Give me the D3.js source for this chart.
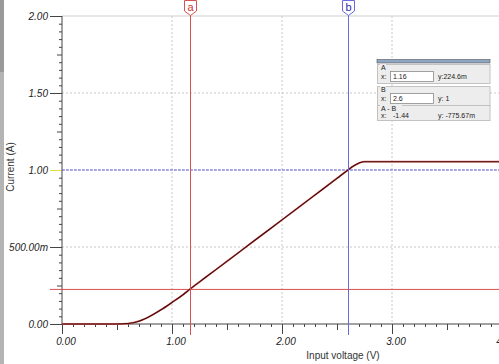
<!DOCTYPE html>
<html>
<head>
<meta charset="utf-8">
<script src="https://cdn.jsdelivr.net/npm/d3@7"></script>
<style>
  html, body { margin: 0; padding: 0; background: #fff; }
  svg { display: block; font-family: "Liberation Sans", Arial, sans-serif; }
</style>
</head>
<body>
<div id="chart"></div>
<script>
// valores: barrido de tensión de entrada vs corriente
const voltage = [0, 0.5, 0.6, 0.7, 0.8, 0.9, 1.0, 1.1, 1.16, 1.3, 1.5, 1.75, 2.0, 2.25, 2.5, 2.6, 2.65, 2.7, 2.75, 4.0];
const current = [0, 0, 0.003, 0.018, 0.05, 0.092, 0.14, 0.19, 0.2246, 0.3, 0.407, 0.542, 0.676, 0.811, 0.946, 1.0, 1.026, 1.045, 1.054, 1.054];
const xTicks = [0, 1, 2, 3, 4];
const yTicks = [0, 0.5, 1, 1.5, 2];
const yTickLabels = ['0.00', '500.00m', '1.00', '1.50', '2.00'];
const cursorA = { x: 1.16, y: 0.2246 };
const cursorB = { x: 2.6, y: 1 };
const readout = [
  { name: 'A', x: '1.16', y: 'y:224.6m', box: true },
  { name: 'B', x: '2.6', y: 'y: 1', box: true },
  { name: 'A - B', x: '-1.44', y: 'y: -775.67m', box: false }
];

(function () {
  const width = 499, height = 364;
  const svg = d3.select('#chart').append('svg').attr('width', width).attr('height', height);
  const x = d3.scaleLinear().domain([0, 4]).range([62, 502]);
  const y = d3.scaleLinear().domain([0, 2]).range([324, 16]);
  const data = voltage.map((v, i) => ({ v, c: current[i] }));

  // franja gris a la izquierda
  svg.append('rect').attr('x', 0).attr('y', 0).attr('width', 4).attr('height', height).attr('fill', '#b4b4b4');
  svg.append('rect').attr('x', 0).attr('y', 0).attr('width', 4).attr('height', 72).attr('fill', '#9a9a9a');

  // rejilla punteada
  const grid = svg.append('g');
  grid.selectAll('line.gx').data(xTicks.filter(d => d > 0)).join('line')
    .attr('x1', d => x(d)).attr('x2', d => x(d)).attr('y1', y(2)).attr('y2', y(0))
    .attr('stroke', '#c8c8c8').attr('stroke-dasharray', '2,2');
  grid.selectAll('line.gy').data(yTicks.filter(d => d > 0 && d < 2)).join('line')
    .attr('x1', x(0)).attr('x2', width).attr('y1', d => y(d)).attr('y2', d => y(d))
    .attr('stroke', '#c8c8c8').attr('stroke-dasharray', '2,2');
  svg.append('line').attr('x1', x(0)).attr('x2', width).attr('y1', y(2)).attr('y2', y(2)).attr('stroke', '#cfcfcf');

  // eje Y
  const minorY = d3.range(0, 2.0001, 0.05).filter(d => Math.abs(d * 2 - Math.round(d * 2)) > 1e-6);
  const yMinor = svg.append('g').attr('transform', `translate(${x(0)},0)`)
    .call(d3.axisLeft(y).tickValues(minorY).tickSize(3).tickFormat(''));
  yMinor.selectAll('line').attr('x2', d => Math.abs(d * 4 - Math.round(d * 4)) < 1e-6 ? -5 : -3);
  const yAxis = svg.append('g').attr('transform', `translate(${x(0)},0)`)
    .call(d3.axisLeft(y).tickValues(yTicks).tickSize(12).tickPadding(2).tickFormat((d, i) => yTickLabels[i]));
  [yMinor, yAxis].forEach(g => {
    g.select('.domain').remove();
    g.selectAll('line').attr('stroke', '#444');
  });
  yAxis.selectAll('text').attr('font-size', 10).attr('font-style', 'italic').attr('fill', '#222').attr('font-family', '"Liberation Sans", Arial, sans-serif');
  yAxis.selectAll('.tick line').filter(d => d === 1).attr('stroke', '#e8e040');
  svg.append('line').attr('x1', x(0)).attr('x2', x(0)).attr('y1', y(2)).attr('y2', y(0)).attr('stroke', '#444');

  // eje X
  const minorX = d3.range(0, 4.0001, 0.1).filter(d => Math.abs(d - Math.round(d)) > 1e-6);
  const xMinor = svg.append('g').attr('transform', `translate(0,${y(0)})`)
    .call(d3.axisBottom(x).tickValues(minorX).tickSize(3).tickFormat(''));
  xMinor.selectAll('line').attr('y2', d => Math.abs(d * 2 - Math.round(d * 2)) < 1e-6 ? 6 : 3);
  const xAxis = svg.append('g').attr('transform', `translate(0,${y(0)})`)
    .call(d3.axisBottom(x).tickValues(xTicks).tickSize(10).tickPadding(4).tickFormat(d3.format('.2f')));
  [xMinor, xAxis].forEach(g => {
    g.select('.domain').remove();
    g.selectAll('line').attr('stroke', '#444');
  });
  xAxis.selectAll('text').attr('font-size', 10).attr('font-style', 'italic').attr('fill', '#222').attr('dx', 3.5).attr('font-family', '"Liberation Sans", Arial, sans-serif');
  svg.append('line').attr('x1', x(0)).attr('x2', width).attr('y1', y(0)).attr('y2', y(0)).attr('stroke', '#444');

  // títulos de ejes
  svg.append('text').attr('transform', `translate(14,167) rotate(-90)`).attr('text-anchor', 'middle')
    .attr('font-size', 10).attr('fill', '#333').text('Current (A)');
  svg.append('text').attr('x', 343).attr('y', 359).attr('text-anchor', 'middle')
    .attr('font-size', 10).attr('fill', '#333').text('Input voltage (V)');

  // cursores horizontales
  svg.append('line').attr('x1', 50).attr('x2', width).attr('y1', y(cursorA.y)).attr('y2', y(cursorA.y))
    .attr('stroke', '#d85050').attr('stroke-width', 1);
  svg.append('line').attr('x1', x(0)).attr('x2', width).attr('y1', y(cursorB.y)).attr('y2', y(cursorB.y))
    .attr('stroke', '#6a6ae0').attr('stroke-width', 1).attr('stroke-dasharray', '3,1');

  // curva
  const line = d3.line().x(d => x(d.v)).y(d => y(d.c)).curve(d3.curveMonotoneX);
  svg.append('path').datum(data).attr('d', line).attr('fill', 'none').attr('stroke', '#d06060').attr('stroke-width', 1.8);
  svg.append('path').datum(data).attr('d', line).attr('fill', 'none').attr('stroke', '#4a0808').attr('stroke-width', 1.1);

  // cursores verticales con etiqueta
  [{ c: cursorA, label: 'a', color: '#d85050', text: '#d03030' }, { c: cursorB, label: 'b', color: '#6a6ae0', text: '#2a2ab0' }].forEach(k => {
    const cx = Math.round(x(k.c.x)) + 0.5;
    svg.append('line').attr('x1', cx).attr('x2', cx).attr('y1', 15).attr('y2', 335).attr('stroke', k.color);
    svg.append('path').attr('d', `M${cx - 6},0.5 H${cx + 6} V11 L${cx},15.5 L${cx - 6},11 Z`)
      .attr('fill', '#fff').attr('stroke', k.color).attr('stroke-width', 1);
    svg.append('text').attr('x', cx).attr('y', 10.5).attr('text-anchor', 'middle').attr('font-size', 11)
      .attr('fill', k.text).text(k.label);
  });

  // panel de lecturas
  const panel = svg.append('g').attr('font-size', 7).attr('fill', '#222');
  panel.append('rect').attr('x', 377).attr('y', 59.5).attr('width', 113).attr('height', 3.5)
    .attr('fill', '#8ea6c2').attr('stroke', '#555').attr('stroke-width', 0.6);
  const tops = [64, 86, 105];
  readout.forEach((r, i) => {
    const t = tops[i];
    const h = i === 2 ? 15 : 19;
    const row = panel.append('g').attr('transform', `translate(0,${t})`);
    row.append('rect').attr('x', 377.5).attr('y', 0.5).attr('width', 112.5).attr('height', h)
      .attr('fill', '#ededed').attr('stroke', '#c2c2c2');
    row.append('rect').attr('x', 380).attr('y', 0).attr('width', r.name.length * 4 + 2).attr('height', 4).attr('fill', '#ededed');
    row.append('text').attr('x', 381).attr('y', 5.5).text(r.name);
    const base = i === 2 ? 13 : 15;
    row.append('text').attr('x', 381).attr('y', base).text('x:');
    if (r.box) {
      row.append('rect').attr('x', 390.5).attr('y', 7.5).attr('width', 43).attr('height', 10)
        .attr('fill', '#fff').attr('stroke', '#8a8a8a').attr('stroke-width', 0.8);
    }
    row.append('text').attr('x', 393).attr('y', base).text(r.x);
    row.append('text').attr('x', 438).attr('y', base).text(r.y);
  });
})();
</script>
</body>
</html>
